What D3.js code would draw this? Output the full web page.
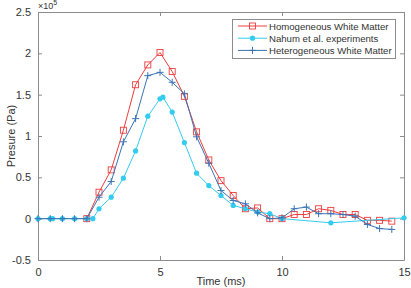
<!DOCTYPE html>
<html>
<meta charset="utf-8">
<head>
<script src="https://d3js.org/d3.v7.min.js"></script>
</head>
<style>
  body { margin: 0; background: #fff; }
  svg text { font-family: "Liberation Sans", Arial, sans-serif; fill: #333; }
  .axis path, .axis line { stroke: #8c8c8c; }
</style>
<body>
<script>
// time (ms) and pressure (x10^5 Pa)
var homoT = [2, 2.5, 3, 3.5, 4, 4.5, 5, 5.5, 6, 6.5, 7, 7.5, 8, 8.5, 9, 9.5, 10, 10.5, 11, 11.5, 12, 12.5, 13, 13.5, 14, 14.5];
var homoP = [0, 0.32, 0.59, 1.07, 1.62, 1.86, 2.01, 1.78, 1.48, 1.05, 0.71, 0.46, 0.28, 0.12, 0.13, 0.0, 0.0, 0.05, 0.05, 0.12, 0.10, 0.05, 0.05, -0.02, -0.02, -0.03];

var nahumT = [0, 0.5, 0.6, 1, 1.5, 2, 2.25, 2.5, 3, 3.5, 4, 4.5, 5, 5.12, 5.5, 6, 6.5, 7, 7.5, 8, 8.5, 9, 9.5, 10, 12, 15];
var nahumP = [0, 0, 0, 0, 0, 0, 0, 0.12, 0.26, 0.49, 0.82, 1.24, 1.45, 1.47, 1.29, 0.92, 0.55, 0.40, 0.28, 0.16, 0.12, 0.08, 0.06, 0.0, -0.05, 0.01];

var heteT = [0, 0.5, 1, 1.5, 2, 2.5, 3, 3.5, 4, 4.5, 5, 5.5, 6, 6.5, 7, 7.5, 8, 8.5, 9, 9.5, 10, 10.5, 11, 11.5, 12, 12.5, 13, 13.5, 14, 14.5];
var heteP = [0, 0, 0, 0, 0, 0.26, 0.45, 0.93, 1.21, 1.73, 1.77, 1.65, 1.51, 0.99, 0.67, 0.34, 0.22, 0.18, 0.07, 0.0, 0.01, 0.12, 0.14, 0.06, 0.06, 0.05, 0.03, -0.07, -0.12, -0.13];

var xTicks = [0, 5, 10, 15];
var yTicks = [-0.5, 0, 0.5, 1, 1.5, 2, 2.5];
var legendNames = ["Homogeneous  White Matter", "Nahum et al. experiments", "Heterogeneous White Matter"];

var width = 411, height = 288;
var mLeft = 38, mRight = 404, mTop = 12, mBottom = 260;

var svg = d3.select("body").append("svg")
    .attr("width", width)
    .attr("height", height);

var x = d3.scaleLinear().domain([0, 15]).range([mLeft, mRight]);
var y = d3.scaleLinear().domain([-0.5, 2.5]).range([mBottom, mTop]);

// axes with inward ticks, box all round
svg.append("g").attr("class", "axis")
    .attr("transform", "translate(0," + mBottom + ")")
    .call(d3.axisBottom(x).tickValues(xTicks).tickSizeInner(-4).tickSizeOuter(0).tickPadding(8));
svg.append("g").attr("class", "axis")
    .attr("transform", "translate(" + mLeft + ",0)")
    .call(d3.axisLeft(y).tickValues(yTicks).tickSizeInner(-4).tickSizeOuter(0).tickPadding(7)
      .tickFormat(function(d) { return d; }));
svg.append("g").attr("class", "axis")
    .attr("transform", "translate(0," + mTop + ")")
    .call(d3.axisTop(x).tickValues(xTicks).tickSizeInner(-4).tickSizeOuter(0).tickFormat(""));
svg.append("g").attr("class", "axis")
    .attr("transform", "translate(" + mRight + ",0)")
    .call(d3.axisRight(y).tickValues(yTicks).tickSizeInner(-4).tickSizeOuter(0).tickFormat(""));

svg.selectAll(".axis text").style("font-size", "11px").attr("fill", "#333");
svg.selectAll(".axis path").attr("stroke", "#8c8c8c");

// exponent label
var ex = svg.append("text").attr("x", 38).attr("y", 9).style("font-size", "9px");
ex.append("tspan").text("\u00d710");
ex.append("tspan").attr("dy", -4).style("font-size", "7px").text("5");

svg.append("text")
    .attr("transform", "translate(15," + ((mTop + mBottom) / 2) + ") rotate(-90)")
    .attr("text-anchor", "middle")
    .style("font-size", "11px")
    .text("Presure (Pa)");

svg.append("text")
    .attr("x", (mLeft + mRight) / 2)
    .attr("y", 285)
    .attr("text-anchor", "middle")
    .style("font-size", "11px")
    .text("Time (ms)");

var line = d3.line().x(function(d) { return x(d[0]); }).y(function(d) { return y(d[1]); });

var redC = "#ee3c3c", cyanC = "#33ccee", blueC = "#3a74b4";

function pairs(t, p) { return t.map(function(v, i) { return [v, p[i]]; }); }

var homo = pairs(homoT, homoP), nahum = pairs(nahumT, nahumP), hete = pairs(heteT, heteP);

function drawSquares(g, data, c) {
  g.selectAll("rect").data(data).enter().append("rect")
    .attr("x", function(d) { return x(d[0]) - 3; })
    .attr("y", function(d) { return y(d[1]) - 3; })
    .attr("width", 6).attr("height", 6)
    .attr("fill", "none").attr("stroke", c).attr("stroke-width", 0.9);
}
function drawDots(g, data, c) {
  g.selectAll("circle").data(data).enter().append("circle")
    .attr("cx", function(d) { return x(d[0]); })
    .attr("cy", function(d) { return y(d[1]); })
    .attr("r", 2.6).attr("fill", c);
}
function drawPlus(g, data, c) {
  g.selectAll("path.p").data(data).enter().append("path").attr("class", "p")
    .attr("d", function(d) {
      var px = x(d[0]), py = y(d[1]);
      return "M" + (px - 3.5) + "," + py + "H" + (px + 3.5) + "M" + px + "," + (py - 3.5) + "V" + (py + 3.5);
    })
    .attr("stroke", c).attr("stroke-width", 1);
}

var gH = svg.append("g");
gH.append("path").datum(homo).attr("d", line).attr("fill", "none").attr("stroke", redC).attr("stroke-width", 1);
drawSquares(gH, homo, redC);

var gN = svg.append("g");
gN.append("path").datum(nahum).attr("d", line).attr("fill", "none").attr("stroke", cyanC).attr("stroke-width", 1);
drawDots(gN, nahum, cyanC);

var gB = svg.append("g");
gB.append("path").datum(hete).attr("d", line).attr("fill", "none").attr("stroke", blueC).attr("stroke-width", 1);
drawPlus(gB, hete, blueC);

// legend
var lg = svg.append("g");
lg.append("rect").attr("x", 232.5).attr("y", 19.5).attr("width", 163).attr("height", 39)
  .attr("fill", "#fff").attr("stroke", "#8c8c8c").attr("stroke-width", 1);
var colors = [redC, cyanC, blueC];
legendNames.forEach(function(name, i) {
  var ly = 26 + i * 12.2;
  lg.append("line").attr("x1", 238).attr("x2", 267).attr("y1", ly).attr("y2", ly)
    .attr("stroke", colors[i]).attr("stroke-width", 1);
  var pt = [[x.invert(252.5), y.invert(ly)]];
  var g = lg.append("g");
  if (i === 0) drawSquares(g, pt, colors[i]);
  if (i === 1) drawDots(g, pt, colors[i]);
  if (i === 2) drawPlus(g, pt, colors[i]);
  lg.append("text").attr("x", 269).attr("y", ly + 3.5).style("font-size", "9.6px").text(name);
});
</script>
</body>
</html>
